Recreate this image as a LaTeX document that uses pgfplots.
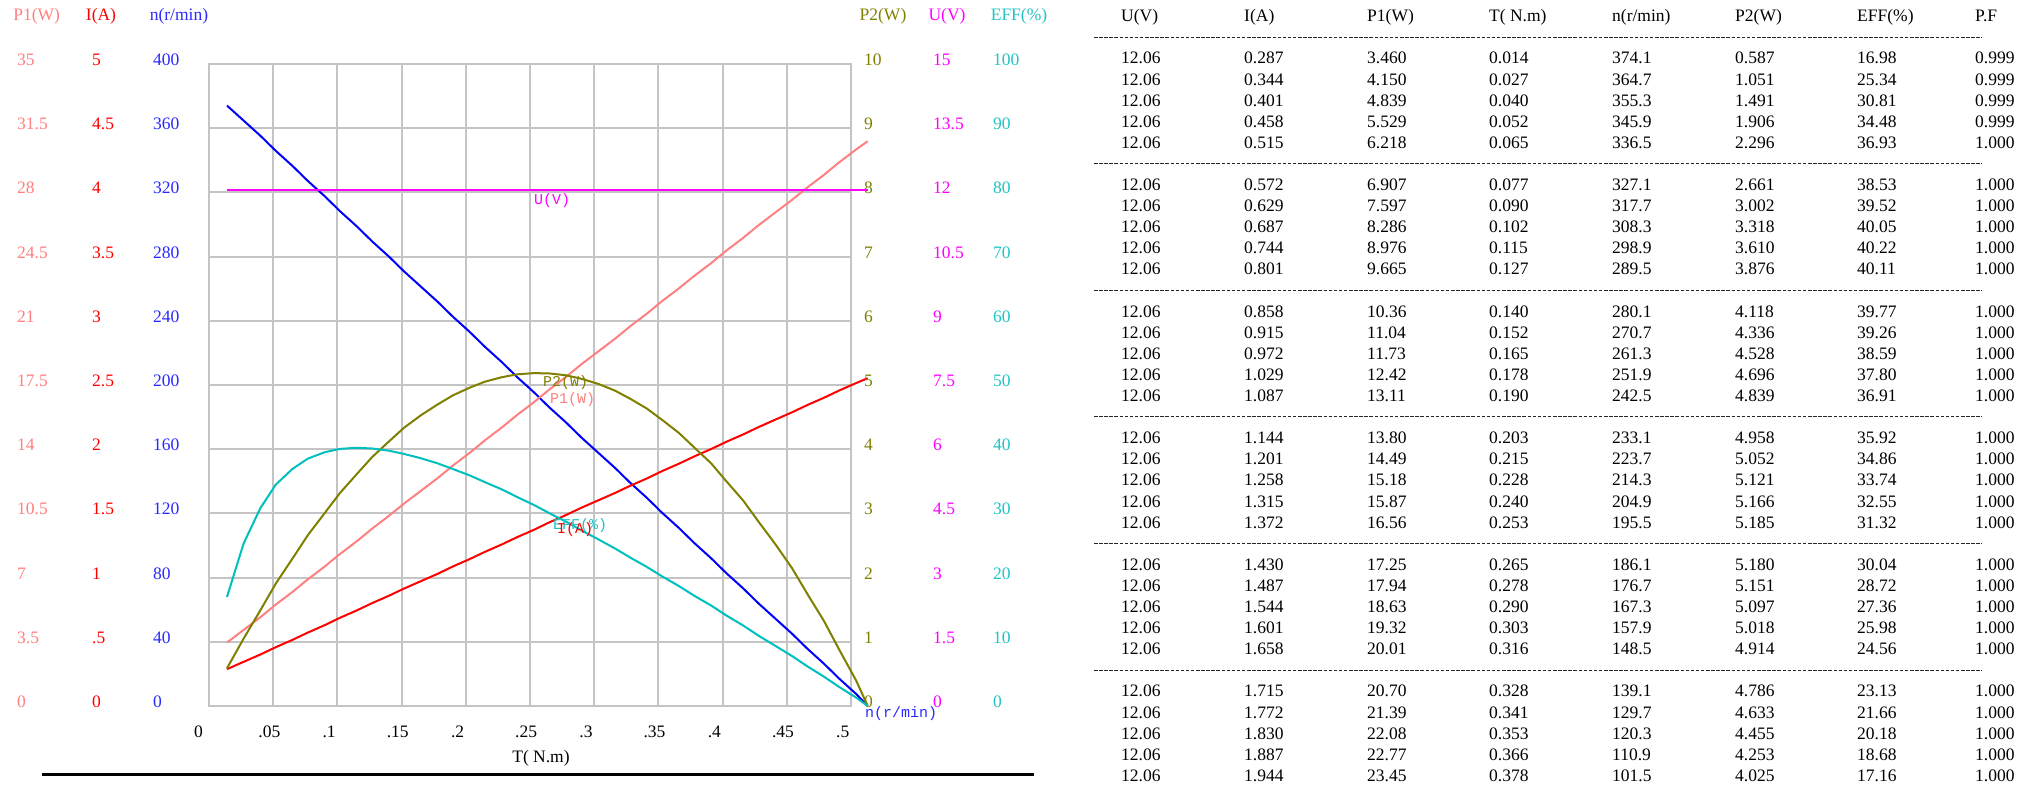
\documentclass[border=0pt]{standalone}
\usepackage{fontspec}
\setmainfont{Liberation Serif}
\newfontfamily\monof{Liberation Mono}
\usepackage{pgfplots}
\usepackage{pgfplotstable}
\pgfplotsset{compat=1.18}
\definecolor{cP1}{HTML}{FF8080}
\definecolor{cI}{HTML}{FF0000}
\definecolor{cN}{HTML}{0000FF}
\definecolor{cNt}{HTML}{2A2AFF}
\definecolor{cP2}{HTML}{808000}
\definecolor{cU}{HTML}{FF00FF}
\definecolor{cE}{HTML}{00BFBF}
\definecolor{cEt}{HTML}{22C4C4}
\definecolor{cgrid}{HTML}{C4C4C4}

\pgfplotstableread{
T I P1 n P2 EFF U
0.014 0.287 3.460 374.1 0.587 16.98 12.06
0.027 0.344 4.150 364.7 1.051 25.34 12.06
0.040 0.401 4.839 355.3 1.491 30.81 12.06
0.052 0.458 5.529 345.9 1.906 34.48 12.06
0.065 0.515 6.218 336.5 2.296 36.93 12.06
0.077 0.572 6.907 327.1 2.661 38.53 12.06
0.090 0.629 7.597 317.7 3.002 39.52 12.06
0.102 0.687 8.286 308.3 3.318 40.05 12.06
0.115 0.744 8.976 298.9 3.610 40.22 12.06
0.127 0.801 9.665 289.5 3.876 40.11 12.06
0.140 0.858 10.36 280.1 4.118 39.77 12.06
0.152 0.915 11.04 270.7 4.336 39.26 12.06
0.165 0.972 11.73 261.3 4.528 38.59 12.06
0.178 1.029 12.42 251.9 4.696 37.80 12.06
0.190 1.087 13.11 242.5 4.839 36.91 12.06
0.203 1.144 13.80 233.1 4.958 35.92 12.06
0.215 1.201 14.49 223.7 5.052 34.86 12.06
0.228 1.258 15.18 214.3 5.121 33.74 12.06
0.240 1.315 15.87 204.9 5.166 32.55 12.06
0.253 1.372 16.56 195.5 5.185 31.32 12.06
0.265 1.430 17.25 186.1 5.180 30.04 12.06
0.278 1.487 17.94 176.7 5.151 28.72 12.06
0.290 1.544 18.63 167.3 5.097 27.36 12.06
0.303 1.601 19.32 157.9 5.018 25.98 12.06
0.316 1.658 20.01 148.5 4.914 24.56 12.06
0.328 1.715 20.70 139.1 4.786 23.13 12.06
0.341 1.772 21.39 129.7 4.633 21.66 12.06
0.353 1.830 22.08 120.3 4.455 20.18 12.06
0.366 1.887 22.77 110.9 4.253 18.68 12.06
0.378 1.944 23.45 101.5 4.025 17.16 12.06
0.391 2.001 24.14 92.1 3.781 15.66 12.06
0.403 2.058 24.83 82.7 3.499 14.09 12.06
0.416 2.115 25.52 73.3 3.201 12.54 12.06
0.428 2.172 26.21 63.9 2.871 10.95 12.06
0.441 2.230 26.90 54.5 2.523 9.38 12.06
0.454 2.287 27.59 45.1 2.149 7.79 12.06
0.466 2.344 28.27 35.7 1.746 6.18 12.06
0.479 2.401 28.96 26.3 1.322 4.56 12.06
0.491 2.458 29.65 16.9 0.871 2.94 12.06
0.504 2.515 30.34 7.5 0.397 1.31 12.06
0.513 2.553 30.79 0 0 0 12.06
}\data

\newcommand\fs{\fontsize{17.5}{21}\selectfont}
\newcommand\ms{\monof\fontsize{15}{18}\selectfont}

\pgfplotsset{
  myax/.style={
    at={(209pt,88pt)}, anchor=south west,
    scale only axis, width=642pt, height=642pt,
    xmin=0, xmax=0.5, ymin=0, clip=false,
    axis line style={draw=none}, tick style={draw=none},
    xtick=\empty,
    every tick label/.append style={font=\fs},
    /pgf/number format/assume math mode=true,
    yticklabel style={anchor=base west, inner sep=0pt, yshift=-1.5pt},
  },
  crv/.style={line width=2pt, line join=round},
}

\newcommand\trow[9]{%
  \pgfmathsetmacro\yy{794-21.8-21.1*#1}%
  \node[tn] at (1121,\yy) {#2};
  \node[tn] at (1244,\yy) {#3};
  \node[tn] at (1367,\yy) {#4};
  \node[tn] at (1489,\yy) {#5};
  \node[tn] at (1612,\yy) {#6};
  \node[tn] at (1735,\yy) {#7};
  \node[tn] at (1857,\yy) {#8};
  \node[tn] at (1975,\yy) {#9};
}

\begin{document}
\begin{tikzpicture}[x=1pt,y=1pt, tn/.style={anchor=base west, inner sep=0pt, font=\fs}]
\fill[white] (0,0) rectangle (2040,794);
\path[use as bounding box] (0,0) rectangle (2040,794);

% main axis: speed n, with grid and T axis
\begin{axis}[myax, ymax=400,
  axis line style={draw=cgrid, line width=2pt},
  grid=major, major grid style={draw=cgrid, line width=2pt},
  xtick={0,0.05,0.1,0.15,0.2,0.25,0.3,0.35,0.4,0.45,0.5},
  xticklabels={0,.05,.1,.15,.2,.25,.3,.35,.4,.45,.5},
  xticklabel style={anchor=base west, inner sep=0pt, xshift=-15pt, yshift=-32pt},
  ytick={0,40,80,120,160,200,240,280,320,360,400},
  yticklabels={0,40,80,120,160,200,240,280,320,360,400},
  yticklabel style={xshift=-56pt, text=cNt}]
\addplot[crv, draw=cN] table[x=T, y=n] {\data};
\end{axis}

% P1 axis
\begin{axis}[myax, ymax=35,
  ytick={0,3.5,7,10.5,14,17.5,21,24.5,28,31.5,35},
  yticklabels={0,3.5,7,10.5,14,17.5,21,24.5,28,31.5,35},
  yticklabel style={xshift=-192pt, text=cP1}]
\addplot[crv, draw=cP1] table[x=T, y=P1] {\data};
\end{axis}

% I axis
\begin{axis}[myax, ymax=5,
  ytick={0,0.5,1,1.5,2,2.5,3,3.5,4,4.5,5},
  yticklabels={0,.5,1,1.5,2,2.5,3,3.5,4,4.5,5},
  yticklabel style={xshift=-117pt, text=cI}]
\addplot[crv, draw=cI] table[x=T, y=I] {\data};
\end{axis}

% P2 axis
\begin{axis}[myax, ymax=10, yticklabel pos=right,
  ytick={0,1,2,3,4,5,6,7,8,9,10},
  yticklabels={0,1,2,3,4,5,6,7,8,9,10},
  yticklabel style={xshift=13pt, text=cP2}]
\addplot[crv, draw=cP2] table[x=T, y=P2] {\data};
\end{axis}

% U axis
\begin{axis}[myax, ymax=15, yticklabel pos=right,
  ytick={0,1.5,3,4.5,6,7.5,9,10.5,12,13.5,15},
  yticklabels={0,1.5,3,4.5,6,7.5,9,10.5,12,13.5,15},
  yticklabel style={xshift=82pt, text=cU}]
\addplot[crv, draw=cU] table[x=T, y=U] {\data};
\end{axis}

% EFF axis
\begin{axis}[myax, ymax=100, yticklabel pos=right,
  ytick={0,10,20,30,40,50,60,70,80,90,100},
  yticklabels={0,10,20,30,40,50,60,70,80,90,100},
  yticklabel style={xshift=142pt, text=cEt}]
\addplot[crv, draw=cE] table[x=T, y=EFF] {\data};
\end{axis}

% axis titles
\node[anchor=base, inner sep=0pt, font=\fs, text=cP1] at (36.7,773) {P1(W)};
\node[anchor=base, inner sep=0pt, font=\fs, text=cI] at (101,773) {I(A)};
\node[anchor=base, inner sep=0pt, font=\fs, text=cNt] at (179,773) {n(r/min)};
\node[anchor=base, inner sep=0pt, font=\fs, text=cP2] at (883,773) {P2(W)};
\node[anchor=base, inner sep=0pt, font=\fs, text=cU] at (947,773) {U(V)};
\node[anchor=base, inner sep=0pt, font=\fs, text=cEt] at (1019,773) {EFF(\%)};
\node[anchor=base, inner sep=0pt, font=\fs] at (541,31.5) {T( N.m)};

% curve labels
\node[anchor=west, inner sep=0pt, font=\ms, text=cU] at (534,593) {U(V)};
\node[anchor=west, inner sep=0pt, font=\ms, text=cP2] at (543,411) {P2(W)};
\node[anchor=west, inner sep=0pt, font=\ms, text=cP1] at (550,394) {P1(W)};
\node[anchor=west, inner sep=0pt, font=\ms, text=cEt] at (553,268) {EFF(\%)};
\node[anchor=west, inner sep=0pt, font=\ms, text=cI] at (557,264) {I(A)};
\node[anchor=west, inner sep=0pt, font=\ms, text=cNt] at (865,80) {n(r/min)};

% bottom rule
\draw[line width=3pt, black] (42,19) -- (1034,19);

% table
\node[tn] at (1121,772) {U(V)};
\node[tn] at (1244,772) {I(A)};
\node[tn] at (1367,772) {P1(W)};
\node[tn] at (1489,772) {T( N.m)};
\node[tn] at (1612,772) {n(r/min)};
\node[tn] at (1735,772) {P2(W)};
\node[tn] at (1857,772) {EFF(\%)};
\node[tn] at (1975,772) {P.F};
\foreach \j in {1,7,13,19,25,31}
  \draw[black!85, dash pattern=on 3.5pt off 1.6pt, line width=1pt] (1094,{794-16-21.1*\j}) -- (1982,{794-16-21.1*\j});

\trow{2}{12.06}{0.287}{3.460}{0.014}{374.1}{0.587}{16.98}{0.999}
\trow{3}{12.06}{0.344}{4.150}{0.027}{364.7}{1.051}{25.34}{0.999}
\trow{4}{12.06}{0.401}{4.839}{0.040}{355.3}{1.491}{30.81}{0.999}
\trow{5}{12.06}{0.458}{5.529}{0.052}{345.9}{1.906}{34.48}{0.999}
\trow{6}{12.06}{0.515}{6.218}{0.065}{336.5}{2.296}{36.93}{1.000}
\trow{8}{12.06}{0.572}{6.907}{0.077}{327.1}{2.661}{38.53}{1.000}
\trow{9}{12.06}{0.629}{7.597}{0.090}{317.7}{3.002}{39.52}{1.000}
\trow{10}{12.06}{0.687}{8.286}{0.102}{308.3}{3.318}{40.05}{1.000}
\trow{11}{12.06}{0.744}{8.976}{0.115}{298.9}{3.610}{40.22}{1.000}
\trow{12}{12.06}{0.801}{9.665}{0.127}{289.5}{3.876}{40.11}{1.000}
\trow{14}{12.06}{0.858}{10.36}{0.140}{280.1}{4.118}{39.77}{1.000}
\trow{15}{12.06}{0.915}{11.04}{0.152}{270.7}{4.336}{39.26}{1.000}
\trow{16}{12.06}{0.972}{11.73}{0.165}{261.3}{4.528}{38.59}{1.000}
\trow{17}{12.06}{1.029}{12.42}{0.178}{251.9}{4.696}{37.80}{1.000}
\trow{18}{12.06}{1.087}{13.11}{0.190}{242.5}{4.839}{36.91}{1.000}
\trow{20}{12.06}{1.144}{13.80}{0.203}{233.1}{4.958}{35.92}{1.000}
\trow{21}{12.06}{1.201}{14.49}{0.215}{223.7}{5.052}{34.86}{1.000}
\trow{22}{12.06}{1.258}{15.18}{0.228}{214.3}{5.121}{33.74}{1.000}
\trow{23}{12.06}{1.315}{15.87}{0.240}{204.9}{5.166}{32.55}{1.000}
\trow{24}{12.06}{1.372}{16.56}{0.253}{195.5}{5.185}{31.32}{1.000}
\trow{26}{12.06}{1.430}{17.25}{0.265}{186.1}{5.180}{30.04}{1.000}
\trow{27}{12.06}{1.487}{17.94}{0.278}{176.7}{5.151}{28.72}{1.000}
\trow{28}{12.06}{1.544}{18.63}{0.290}{167.3}{5.097}{27.36}{1.000}
\trow{29}{12.06}{1.601}{19.32}{0.303}{157.9}{5.018}{25.98}{1.000}
\trow{30}{12.06}{1.658}{20.01}{0.316}{148.5}{4.914}{24.56}{1.000}
\trow{32}{12.06}{1.715}{20.70}{0.328}{139.1}{4.786}{23.13}{1.000}
\trow{33}{12.06}{1.772}{21.39}{0.341}{129.7}{4.633}{21.66}{1.000}
\trow{34}{12.06}{1.830}{22.08}{0.353}{120.3}{4.455}{20.18}{1.000}
\trow{35}{12.06}{1.887}{22.77}{0.366}{110.9}{4.253}{18.68}{1.000}
\trow{36}{12.06}{1.944}{23.45}{0.378}{101.5}{4.025}{17.16}{1.000}
\end{tikzpicture}
\end{document}
